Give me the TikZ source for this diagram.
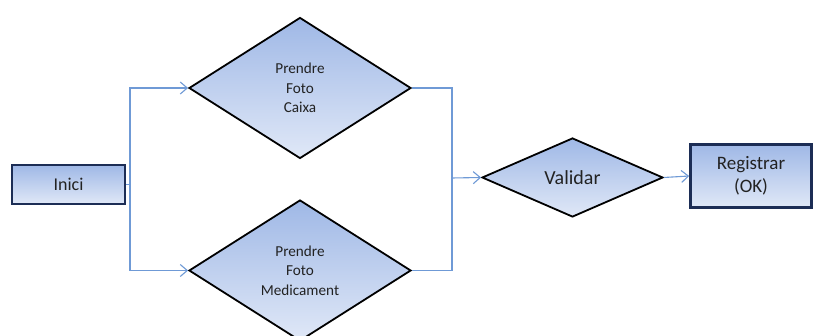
\documentclass[tikz,border=0pt]{standalone}
\usepackage{fontspec}
\setmainfont{Carlito}
\usetikzlibrary{shapes.geometric,arrows.meta}
\definecolor{conn}{HTML}{6F9AD6}
\definecolor{topc}{HTML}{9FB8E6}
\definecolor{botc}{HTML}{E0E8F7}
\definecolor{navy}{HTML}{1C2D55}
\definecolor{txt}{HTML}{222222}
\tikzset{
  gradfill/.style={top color=topc, bottom color=botc},
  decision/.style={diamond, draw=black, line width=1.8pt, gradfill, inner sep=0pt,
    align=center, text=txt},
  procbox/.style={rectangle, draw=navy, line width=2.6pt, gradfill, inner sep=0pt,
    align=center, text=txt},
  conline/.style={draw=conn, line width=1.1pt},
  arr/.style={conline, -{Straight Barb[length=7pt,width=12pt]}},
}
\begin{document}
\begin{tikzpicture}[x=1pt,y=-1pt]
\clip (0,0) rectangle (815,336);
\fill[white] (0,0) rectangle (815,336);
\node[procbox, minimum width=113pt, minimum height=39pt, font=\fontsize{18}{22}\selectfont] (inici) at (68.5,184.5) {Inici};
\node[decision, minimum width=222pt, minimum height=141pt, font=\fontsize{15.2}{19.5}\selectfont] (d1) at (300,88) {Prendre\\Foto\\Caixa};
\node[decision, minimum width=222pt, minimum height=141pt, font=\fontsize{15.2}{19.5}\selectfont] (d2) at (300,270.5) {Prendre\\Foto\\Medicament};
\node[decision, minimum width=181pt, minimum height=79pt, font=\fontsize{20}{24}\selectfont] (val) at (572.5,177.5) {Validar};
\node[procbox, minimum width=121pt, minimum height=63pt, font=\fontsize{19}{23}\selectfont] (reg) at (751,176) {Registrar\\(OK)};
\coordinate (s) at (130,184.5);
\coordinate (j) at (452,178);
\draw[conline] (inici.east) -- (s);
\draw[arr] (s) |- (d1.west);
\draw[arr] (s) |- (d2.west);
\draw[conline] (d1.east) -| (j);
\draw[conline] (d2.east) -| (j);
\draw[arr] (j) -- (val.west);
\draw[arr] (val.east) -- (reg.west);
\end{tikzpicture}
\end{document}
